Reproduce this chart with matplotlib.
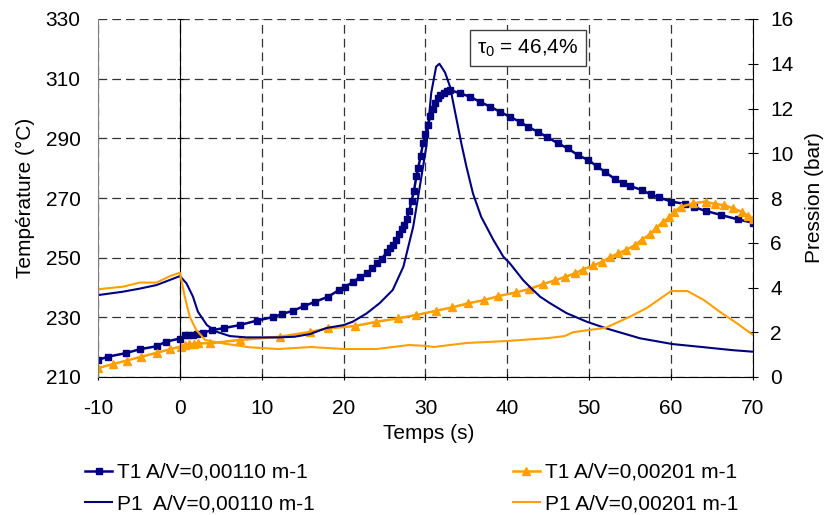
import matplotlib
matplotlib.use("Agg")
from matplotlib import pyplot as plt

plt.rcParams['font.family'] = ['Liberation Sans', 'DejaVu Sans']
plt.rcParams['mathtext.fontset'] = 'custom'
plt.rcParams['mathtext.rm'] = 'Liberation Sans'
plt.rcParams['axes.unicode_minus'] = False

# T1 A/V=0,00110 (temperature, °C)
t_T1a = [-10, -8.8, -6.6, -4.9, -2.85, -1.75, 0, 0.6, 1.0, 1.6, 2.1, 2.8, 3.9, 5.4, 7.3, 9.4,
         11.4, 12.5, 13.8, 15.2, 16.5, 18.1, 19.4, 20.2, 21.2, 22.0, 22.9, 23.5, 24.1, 24.7,
         25.3, 25.7, 26.0, 26.4, 26.8, 27.1, 27.4, 27.7, 28.0, 28.3, 28.6, 28.9, 29.1, 29.4,
         29.7, 30.0, 30.3, 30.6, 30.9, 31.2, 31.5, 31.8, 32.2, 32.6, 33.0, 34.2, 35.4, 36.6,
         37.9, 39.1, 40.3, 41.5, 42.5, 43.7, 44.8, 46.2, 47.4, 48.6, 49.9, 50.9, 51.9, 53.1,
         54.1, 55.0, 56.4, 57.5, 58.5, 60.0, 61.7, 62.8, 64.2, 66.1, 68.2, 70.0]
T1a = [215.7, 216.8, 218.0, 219.3, 220.3, 221.8, 222.9, 224.0, 224.1, 224.2, 224.3, 224.8, 225.7,
       226.4, 227.4, 228.9, 230.1, 231.1, 232.2, 233.8, 235.2, 236.9, 239.1, 240.3, 241.9, 243.6,
       244.7, 246.4, 248.1, 249.7, 252.0, 253.2, 254.2, 256.0, 258.0, 259.5, 261.0, 263.0, 265.5,
       269.0, 272.5, 277.5, 280.0, 284.0, 288.3, 291.5, 294.5, 297.5, 299.8, 302.0, 303.5, 304.5,
       305.3, 305.8, 306.2, 305.1, 304.0, 302.3, 300.6, 298.9, 297.2, 295.6, 293.9, 292.2, 290.5,
       288.3, 286.6, 284.4, 282.7, 280.7, 278.8, 276.4, 274.9, 274.0, 272.7, 271.2, 270.2, 268.8,
       268.0, 266.9, 265.7, 264.3, 262.8, 261.7]

# T1 A/V=0,00201 (temperature, °C)
t_T1b = [-10, -8.2, -6.5, -4.7, -2.85, -1.2, 0.1, 0.6, 1.1, 1.7, 2.2, 3.7, 7.3, 12.2, 15.9, 18.1,
         21.4, 24.0, 26.7, 28.9, 31.3, 33.2, 35.2, 37.2, 38.9, 41.1, 42.7, 44.4, 45.8, 47.0, 48.2,
         49.2, 50.5, 51.5, 52.5, 53.5, 54.5, 55.6, 56.4, 57.4, 58.2, 59.0, 59.8, 60.4, 61.2, 62.7,
         64.2, 65.3, 66.5, 67.6, 68.6, 69.4, 70.0]
T1b = [213.0, 214.3, 215.5, 216.8, 218.1, 219.3, 220.2, 220.6, 221.0, 221.2, 221.3, 221.3, 222.4,
       223.5, 225.1, 226.3, 227.1, 228.5, 229.7, 230.8, 232.2, 233.3, 234.7, 235.8, 237.1, 238.4,
       239.5, 241.2, 242.4, 243.5, 244.7, 246.0, 247.4, 248.5, 250.1, 251.4, 252.6, 254.2, 256.0,
       257.8, 260.0, 262.0, 263.5, 265.4, 267.1, 268.2, 268.8, 268.0, 267.6, 266.5, 265.4, 264.0,
       263.0]

# P1 A/V=0,00110 (pressure, bar)
t_P1a = [-10, -7, -4.9, -2.85, -1.2, 0, 0.8, 1.6, 2.2, 3.3, 4.5, 6.1, 8.1, 10, 12, 14, 15.9, 17.9,
         20, 21.1, 22.8, 24.4, 26, 27.3, 28.5, 29.3, 30.1, 30.7, 31.3, 31.7, 32.4, 33.0, 33.8, 34.4,
         35.0, 35.8, 36.8, 38.3, 39.5, 40.3, 41.9, 42.7, 44.0, 45.2, 47.2, 49.7, 52.1, 56.2, 60.2,
         63.5, 67.5, 70]
P1a = [3.66, 3.81, 3.95, 4.11, 4.34, 4.51, 4.19, 3.59, 2.92, 2.32, 2.02, 1.83, 1.77, 1.77, 1.77,
       1.80, 1.92, 2.19, 2.32, 2.47, 2.84, 3.30, 3.89, 4.93, 6.72, 8.5, 10.3, 12.7, 13.87, 14.0,
       13.6, 12.97, 11.5, 10.4, 9.4, 8.2, 7.16, 6.12, 5.38, 5.08, 4.34, 4.04, 3.59, 3.30, 2.86,
       2.47, 2.17, 1.73, 1.47, 1.35, 1.20, 1.13]

# P1 A/V=0,00201 (pressure, bar)
t_P1b = [-10, -6.9, -4.9, -2.85, -1.2, 0, 0.6, 1.2, 2.0, 3.1, 5.3, 8.5, 12, 16, 20, 24, 28, 30,
         31, 35, 40, 45, 47, 48, 50, 52, 55, 57, 60, 62, 64, 66, 68, 70]
P1b = [3.92, 4.04, 4.22, 4.22, 4.51, 4.66, 3.59, 2.70, 2.10, 1.65, 1.50, 1.33, 1.25, 1.34, 1.25,
       1.25, 1.43, 1.39, 1.34, 1.52, 1.61, 1.74, 1.83, 2.0, 2.1, 2.2, 2.7, 3.08, 3.84, 3.84, 3.44,
       2.9, 2.41, 1.88]

navy = '#000080'
orange = '#FF9F00'

fig = plt.figure(figsize=(8.28, 5.15), dpi=100)
ax = fig.add_axes([98/828, 1-377/515, 655/828, 358/515])
ax2 = ax.twinx()

l1, = ax.plot(t_T1a, T1a, color=navy, lw=1.8, marker='s', ms=5, label='T1 A/V=0,00110 m-1')
l3, = ax.plot(t_T1b, T1b, color=orange, lw=1.8, marker='^', ms=5.5, label='T1 A/V=0,00201 m-1')
l2, = ax2.plot(t_P1a, P1a, color=navy, lw=1.5, label='P1  A/V=0,00110 m-1')
l4, = ax2.plot(t_P1b, P1b, color=orange, lw=1.5, label='P1 A/V=0,00201 m-1')

ax.set_xlim(-10, 70)
ax.set_ylim(210, 330)
ax2.set_ylim(0, 16)
ax.set_xticks(range(-10, 71, 10))
ax.set_yticks(range(210, 331, 20))
ax2.set_yticks(range(0, 17, 2))

# grille pointillée
ax.grid(True, color='#333333', lw=0.9, linestyle=(0, (7, 4)))
ax.set_axisbelow(True)

# axe des y qui croise en x=0 (comme Excel)
ax.spines['left'].set_position(('data', 0))
ax.spines['top'].set_visible(False)
ax.spines['right'].set_visible(False)
ax2.spines['top'].set_visible(False)
ax2.spines['bottom'].set_visible(False)
ax2.spines['left'].set_color('#808080')

ax.tick_params(axis='y', direction='inout', length=5, pad=69, labelsize=15)
ax.tick_params(axis='x', direction='inout', length=5, pad=13, labelsize=15)
ax2.tick_params(axis='y', direction='inout', length=7, pad=9, labelsize=15)

ax.set_xlabel('Temps (s)', fontsize=15)
ax.set_ylabel('Température (°C)', fontsize=15)
ax2.set_ylabel('Pression (bar)', fontsize=15)
ax.xaxis.set_label_coords(0.505, -0.13)
ax.yaxis.set_label_coords(-0.096, 0.5)
ax2.yaxis.set_label_coords(1.08, 0.5)

ax2.text(0.656, 0.919, 'τ$_{0}$ = 46,4%', transform=ax2.transAxes, fontsize=15,
         ha='center', va='center',
         bbox=dict(boxstyle='square,pad=0.35', fc='white', ec='#404040', lw=1))

fig.legend(handles=[l1, l2, l3, l4], ncol=2, loc='upper left', bbox_to_anchor=(85/828, 1-463/515),
           frameon=False, fontsize=15, handlelength=1.3, handletextpad=0.25,
           columnspacing=9.5, labelspacing=0.6, borderpad=0, borderaxespad=0)

fig.savefig('out.png', dpi=100)
